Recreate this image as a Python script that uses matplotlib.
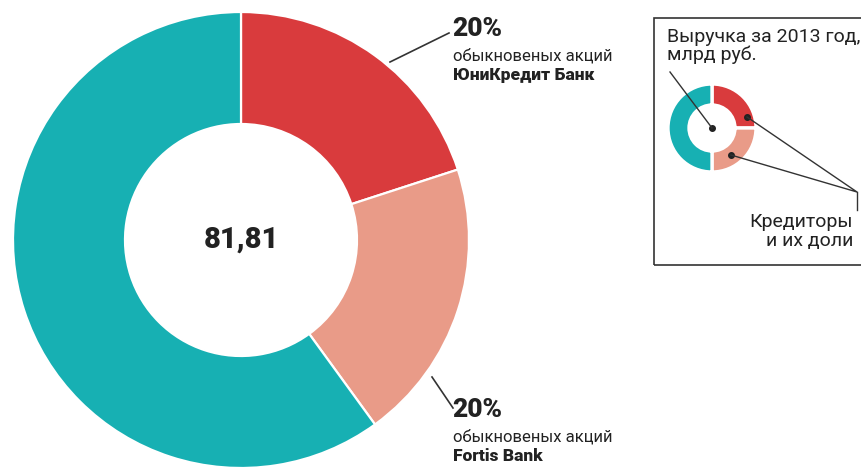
import matplotlib
matplotlib.use("Agg")
import matplotlib.pyplot as plt
from matplotlib.patches import Rectangle

plt.rcParams['font.family'] = ['Roboto', 'DejaVu Sans']

# data
total_revenue = "81,81"
shares = [20, 20, 60]
share_colors = ['#D93B3D', '#E99B88', '#17B0B3']
share_labels = ["20%", "20%"]
share_notes = ["обыкновеных акций", "обыкновеных акций"]
share_banks = ["ЮниКредит Банк", "Fortis Bank"]
mini_shares = [25, 25, 50]
legend_title = "Выручка за 2013 год,\nмлрд руб."
legend_note = "Кредиторы\nи их доли"

W, H = 861, 467
fig = plt.figure(figsize=(W / 100, H / 100), dpi=100)
ax = fig.add_axes([0, 0, 1, 1])

def Y(y):
    # image y (top-down) -> data y
    return H - y

# main donut
cx, cy, R, r = 241, Y(240), 228, 116
ax.pie(shares, colors=share_colors, startangle=90, counterclock=False,
       center=(cx, cy), radius=R,
       wedgeprops=dict(width=R - r, edgecolor='white', linewidth=1.6))
ax.text(cx, cy, total_revenue, ha='center', va='center', fontsize=21,
        fontweight='heavy', color='#222222')

# leader lines and labels
ax.plot([390, 449], [Y(62), Y(33)], color='#333333', lw=1.2)
ax.plot([432, 453], [Y(377), Y(408)], color='#333333', lw=1.2)
label_y = [21, 402]
for i in range(2):
    y0 = label_y[i]
    ax.text(452, Y(y0 - 4), share_labels[i], ha='left', va='top', fontsize=19,
            fontweight='heavy', color='#222222')
    ax.text(453, Y(y0 + 27), share_notes[i], ha='left', va='top', fontsize=12,
            color='#222222')
    ax.text(453, Y(y0 + 46), share_banks[i], ha='left', va='top', fontsize=12.5,
            fontweight='heavy', color='#222222')

# legend box
ax.add_patch(Rectangle((654, Y(265)), 260, 247, fill=False,
                       edgecolor='#333333', lw=1.2))
ax.text(667, Y(28), legend_title, ha='left', va='top', fontsize=14,
        color='#222222', linespacing=1.0)
mx, my = 712, Y(128)
ax.pie(mini_shares, colors=share_colors, startangle=90, counterclock=False,
       center=(mx, my), radius=44,
       wedgeprops=dict(width=21, edgecolor='white', linewidth=2.4))
dots = [(712, 128), (747, 117), (731, 155)]
for x, y in dots:
    ax.plot(x, Y(y), 'o', color='#222222', ms=4)
ax.plot([670, 712], [Y(72), Y(128)], color='#333333', lw=1.0)
ax.plot([747, 857, 731], [Y(117), Y(192), Y(155)], color='#333333', lw=1.0)
ax.plot([857, 857], [Y(192), Y(210)], color='#333333', lw=1.0)
ax.text(853, Y(213), legend_note, ha='right', va='top', fontsize=14,
        color='#222222', linespacing=1.05, multialignment='right')

ax.set_xlim(0, W)
ax.set_ylim(0, H)
ax.set_aspect('equal')
ax.axis('off')

fig.savefig("out.png", dpi=100, facecolor='white')
